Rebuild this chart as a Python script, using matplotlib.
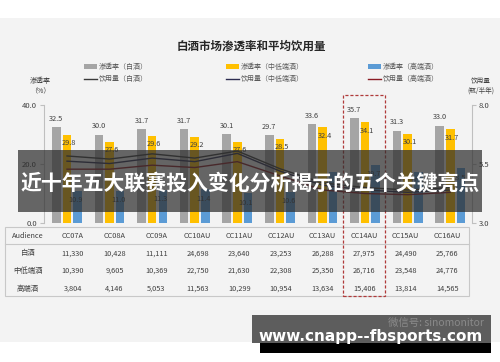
import matplotlib
matplotlib.use("Agg")
import matplotlib.pyplot as plt
import numpy as np
from matplotlib.patches import Rectangle
from matplotlib.lines import Line2D

plt.rcParams['font.family'] = ['Noto Sans CJK SC', 'DejaVu Sans']

# ---------------- data ----------------
categories = ["CC07A", "CC08A", "CC09A", "CC10AU", "CC11AU", "CC12AU", "CC13AU", "CC14AU", "CC15AU", "CC16AU"]
pen_baijiu = [32.5, 30.0, 31.7, 31.7, 30.1, 29.7, 33.6, 35.7, 31.3, 33.0]
pen_mid = [29.8, 27.6, 29.6, 29.2, 27.6, 28.5, 32.4, 34.1, 30.1, 31.7]
pen_high = [10.9, 11.0, 11.3, 11.4, 10.1, 10.6, 17.4, 19.7, 17.4, 18.5]
vol_baijiu = [5.84, 5.71, 5.93, 5.75, 6.05, 5.30, 4.70, 4.50, 4.40, 4.50]
vol_mid = [5.62, 5.52, 5.75, 5.60, 5.95, 5.20, 4.60, 4.40, 4.30, 4.40]
vol_high = [5.28, 5.28, 5.45, 5.35, 5.60, 5.00, 4.40, 4.25, 4.20, 4.30]
table_rows = ["白酒", "中低端酒", "高端酒"]
aud_baijiu = ["11,330", "10,428", "11,111", "24,698", "23,640", "23,253", "26,288", "27,975", "24,490", "25,766"]
aud_mid = ["10,390", "9,605", "10,369", "22,750", "21,630", "22,308", "25,350", "26,716", "23,548", "24,776"]
aud_high = ["3,804", "4,146", "5,053", "11,563", "10,299", "10,954", "13,634", "15,406", "13,814", "14,565"]
left_ticks = [0, 20, 40]
right_ticks = [3.0, 5.5, 8.0]
title = "白酒市场渗透率和平均饮用量"
legend_labels = ["渗透率（白酒）", "渗透率（中低端酒）", "渗透率（高端酒）",
                 "饮用量（白酒）", "饮用量（中低端酒）", "饮用量（高端酒）"]
banner_text = "近十年五大联赛投入变化分析揭示的五个关键亮点"
watermark = "www.cnapp--fbsports.com"
wechat = "微信号: sinomonitor"

c_gray = "#a5a5a5"
c_yel = "#ffc000"
c_blue = "#5b9bd5"
c_l1 = "#3a3a3a"
c_l2 = "#2c2c50"
c_l3 = "#8b1c24"
txtc = "#404040"

W, H = 500, 362
fig = plt.figure(figsize=(5, 3.62), dpi=100)
fig.patch.set_facecolor("white")

def fx(x):
    return x / W

def fy(y):
    return 1 - y / H

# background panel
fig.add_artist(Rectangle((0, fy(342)), 1, fy(18) - fy(342), transform=fig.transFigure,
                         facecolor="#f3f3f3", edgecolor="none", zorder=-10))

# ---------------- axes ----------------
ax = fig.add_axes([fx(44), fy(223), fx(472) - fx(44), fy(105) - fy(223)])
ax.set_facecolor("none")
x = np.arange(len(categories))
bw = 0.2
off = 0.25
ax.bar(x - off, pen_baijiu, bw, color=c_gray, zorder=2)
ax.bar(x, pen_mid, bw, color=c_yel, zorder=2)
ax.bar(x + off, pen_high, bw, color=c_blue, zorder=2)
for i in range(len(x)):
    ax.annotate(f"{pen_baijiu[i]:.1f}", (x[i] - off, pen_baijiu[i]), xytext=(0, 3),
                textcoords="offset points", ha="center", va="bottom", fontsize=5.3, color=txtc)
    ax.annotate(f"{pen_mid[i]:.1f}", (x[i] + 0.05, pen_mid[i]), xytext=(0, -3),
                textcoords="offset points", ha="center", va="top", fontsize=5.3, color=txtc)
    ax.annotate(f"{pen_high[i]:.1f}", (x[i] + off - 0.05, pen_high[i]), xytext=(0, -4),
                textcoords="offset points", ha="center", va="top", fontsize=5.3, color=txtc)
ax.set_xlim(-0.54, 9.51)
ax.set_ylim(0, 40)
ax.set_yticks(left_ticks)
ax.set_yticklabels([f"{t:.1f}" for t in left_ticks])
ax.set_xticks([])
for s in ["top", "right", "bottom"]:
    ax.spines[s].set_visible(False)
ax.spines["left"].set_color("#bfbfbf")
ax.tick_params(axis="y", length=3, color="#bfbfbf", labelsize=5.5, labelcolor=txtc, pad=2)

ax2 = ax.twinx()
ax2.plot(x, vol_baijiu, color=c_l1, lw=1.0, zorder=3)
ax2.plot(x, vol_mid, color=c_l2, lw=1.0, zorder=3)
ax2.plot(x, vol_high, color=c_l3, lw=1.0, zorder=3)
ax2.set_ylim(3, 8)
ax2.set_yticks(right_ticks)
ax2.set_yticklabels([f"{t:.1f}" for t in right_ticks])
for s in ["top", "left", "bottom"]:
    ax2.spines[s].set_visible(False)
ax2.spines["right"].set_color("#bfbfbf")
ax2.tick_params(axis="y", length=3, color="#bfbfbf", labelsize=5.5, labelcolor=txtc, pad=2)

# axis titles
fig.text(fx(40), fy(86), "渗透率\n（%）", ha="center", va="center", fontsize=5, color=txtc, linespacing=1.3)
fig.text(fx(481), fy(86), "饮用量\n(瓶/半年)", ha="center", va="center", fontsize=4.8, color=txtc, linespacing=1.3)

# title
fig.text(fx(251), fy(46), title, ha="center", va="center", fontsize=8.3, fontweight="bold", color="#262626")

# legend (manual)
leg_x = [84, 226, 368]
for j in range(3):
    col = [c_gray, c_yel, c_blue][j]
    fig.add_artist(Rectangle((fx(leg_x[j]), fy(68.5)), fx(13), fy(64) - fy(68.5), transform=fig.transFigure,
                             facecolor=col, edgecolor="none"))
    fig.text(fx(leg_x[j] + 15), fy(66.5), legend_labels[j], ha="left", va="center", fontsize=5, color="#595959")
    lc = [c_l1, c_l2, c_l3][j]
    fig.add_artist(Line2D([fx(leg_x[j]), fx(leg_x[j] + 13)], [fy(79), fy(79)], transform=fig.transFigure,
                          color=lc, lw=1.0))
    fig.text(fx(leg_x[j] + 15), fy(79), legend_labels[j + 3], ha="left", va="center", fontsize=5, color="#595959")

# ---------------- table ----------------
fig.add_artist(Rectangle((fx(5), fy(296)), fx(469) - fx(5), fy(227) - fy(296), transform=fig.transFigure,
                         facecolor="none", edgecolor="#c8c8c8", lw=0.8))
fig.add_artist(Line2D([fx(5), fx(469)], [fy(244), fy(244)], transform=fig.transFigure, color="#c8c8c8", lw=0.8))
col_x0, col_dx = 73, 41.6
row_y = [236, 253.5, 271, 288.5]
fig.text(fx(28), fy(row_y[0]), "Audience", ha="center", va="center", fontsize=5.3, color=txtc)
for r, name in enumerate(table_rows):
    fig.text(fx(28), fy(row_y[r + 1]), name, ha="center", va="center", fontsize=5.3, color=txtc)
data_rows = [aud_baijiu, aud_mid, aud_high]
for i, cat in enumerate(categories):
    cx = col_x0 + col_dx * i
    fig.text(fx(cx), fy(row_y[0]), cat, ha="center", va="center", fontsize=5.3, color=txtc)
    for r in range(3):
        fig.text(fx(cx), fy(row_y[r + 1]), data_rows[r][i], ha="center", va="center", fontsize=5.3, color=txtc)

# highlight dashed box around CC14AU
fig.add_artist(Rectangle((fx(343), fy(296)), fx(385) - fx(343), fy(95) - fy(296), transform=fig.transFigure,
                         facecolor="none", edgecolor="#b03a3a", lw=0.9, ls=(0, (2.5, 1.5)), zorder=5))

# ---------------- overlays ----------------
fig.add_artist(Rectangle((fx(18), fy(212)), fx(482) - fx(18), fy(150) - fy(212), transform=fig.transFigure,
                         facecolor="#2e2e2e", edgecolor="none", alpha=0.72, zorder=20))
fig.text(fx(250), fy(183), banner_text, ha="center", va="center", fontsize=15, fontweight="bold",
         color="white", zorder=21)

fig.add_artist(Rectangle((fx(252), fy(343)), fx(491) - fx(252), fy(315) - fy(343), transform=fig.transFigure,
                         facecolor="#555555", edgecolor="none", alpha=0.95, zorder=20))
fig.add_artist(Rectangle((fx(260), fy(353)), fx(491) - fx(260), fy(343) - fy(353), transform=fig.transFigure,
                         facecolor="black", edgecolor="none", zorder=20))
fig.text(fx(484), fy(323), wechat, ha="right", va="center", fontsize=7.5, color="#8a8a8a", zorder=21)
fig.text(fx(371), fy(337), watermark, ha="center", va="center", fontsize=11, fontweight="bold",
         color="white", family="DejaVu Sans", zorder=22)

fig.savefig("out.png", dpi=100)
